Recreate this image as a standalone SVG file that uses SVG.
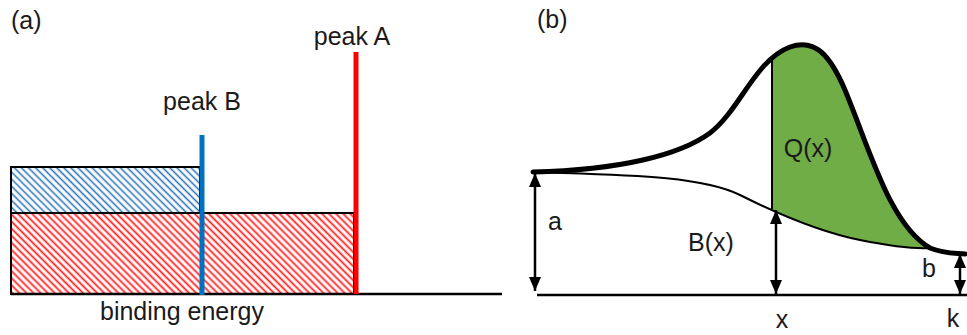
<svg xmlns="http://www.w3.org/2000/svg" width="967" height="335" viewBox="0 0 967 335">
<style>
  text { font-family: "Liberation Sans", Arial, sans-serif; fill: #1a1a1a; }
  .lbl { font-size: 25px; }
  .axis { stroke: #000; stroke-width: 2.5; fill: none; }
  .outline { stroke: #000; stroke-width: 2; }
  .dim { stroke: #000; stroke-width: 2.5; fill: none; marker-start: url(#ah); marker-end: url(#ah); }
</style>
<defs>
  <pattern id="hatchRed" width="5" height="5" patternUnits="userSpaceOnUse" patternTransform="rotate(-45)">
    <rect width="5" height="5" fill="#fff"/>
    <line x1="1.5" y1="0" x2="1.5" y2="5" stroke="#ff2020" stroke-width="1.8"/>
  </pattern>
  <pattern id="hatchBlue" width="5" height="5" patternUnits="userSpaceOnUse" patternTransform="rotate(-45)">
    <rect width="5" height="5" fill="#fff"/>
    <line x1="1.5" y1="0" x2="1.5" y2="5" stroke="#2e75b6" stroke-width="1.6"/>
  </pattern>
  <marker id="ah" markerUnits="userSpaceOnUse" markerWidth="14" markerHeight="12" refX="14" refY="6" orient="auto-start-reverse">
    <path d="M0,0 L14,6 L0,12 Z" fill="#000"/>
  </marker>
  <clipPath id="rightOfX">
    <rect x="772" y="0" width="195" height="335"/>
  </clipPath>
</defs>

<!-- Panel (a) -->
<g id="panel-a-label"><text class="lbl" x="11" y="29" font-size="24">(a)</text></g>
<g id="red-area">
  <rect x="11" y="213" width="343" height="81" fill="url(#hatchRed)" class="outline"/>
</g>
<g id="blue-area">
  <rect x="11" y="167" width="189" height="46" fill="url(#hatchBlue)" class="outline"/>
</g>
<g id="axis-a">
  <line x1="11" y1="294" x2="502" y2="294" class="axis"/>
</g>
<g id="peak-B">
  <line x1="202" y1="135" x2="202" y2="295" stroke="#0070c0" stroke-width="5"/>
  <text class="lbl" x="202" y="110" text-anchor="middle" font-size="26">peak B</text>
</g>
<g id="peak-A">
  <line x1="356" y1="52" x2="356" y2="294" stroke="#ff0000" stroke-width="5"/>
  <text class="lbl" x="352" y="45" text-anchor="middle" font-size="25.5">peak A</text>
</g>
<g id="binding-energy"><text class="lbl" x="182" y="320" text-anchor="middle" font-size="26">binding energy</text></g>

<!-- Panel (b) -->
<g id="panel-b-label"><text class="lbl" x="537" y="28" font-size="24">(b)</text></g>
<g id="Q-area">
  <path clip-path="url(#rightOfX)" fill="#70ad47" stroke="none"
    d="M533,172 C620,170 680,155 710,133 C740,110 755,60 790,47 C815,38 830,55 845,90 C870,150 890,225 930,248 C915,249 890,246 860,240 C820,232 780,215 740,195 C700,175 620,175 533,172 Z"/>
</g>
<g id="background-curve">
  <path d="M533,172 C620,175 700,175 740,195 C780,215 820,232 860,240 C890,246 915,249 930,248" fill="none" stroke="#000" stroke-width="2"/>
</g>
<g id="peak-curve">
  <path d="M533,172 C620,170 680,155 710,133 C740,110 755,60 790,47 C815,38 830,55 845,90 C870,150 890,225 930,248 C945,254 955,253 965,254" fill="none" stroke="#000" stroke-width="5" stroke-linecap="round"/>
</g>
<g id="x-line">
  <line x1="772" y1="58" x2="772" y2="209" stroke="#000" stroke-width="2"/>
</g>
<g id="axis-b">
  <line x1="537" y1="295" x2="967" y2="295" class="axis"/>
</g>
<g id="connectors">
  <line id="dim-a" x1="535" y1="173" x2="535" y2="291" class="dim"/>
  <line id="dim-Bx" x1="776" y1="210" x2="776" y2="294" class="dim"/>
  <line id="dim-b" x1="960" y1="254" x2="960" y2="294" class="dim"/>
</g>
<g id="labels-b">
  <text class="lbl" x="555" y="230" text-anchor="middle" font-size="24">a</text>
  <text class="lbl" x="711" y="251" text-anchor="middle" font-size="25">B(x)</text>
  <text class="lbl" x="808" y="157" text-anchor="middle" font-size="24">Q(x)</text>
  <text class="lbl" x="929" y="277" text-anchor="middle" font-size="24">b</text>
  <text class="lbl" x="782" y="328" text-anchor="middle" font-size="24">x</text>
  <text class="lbl" x="953" y="327" text-anchor="middle" font-size="24">k</text>
</g>
</svg>
